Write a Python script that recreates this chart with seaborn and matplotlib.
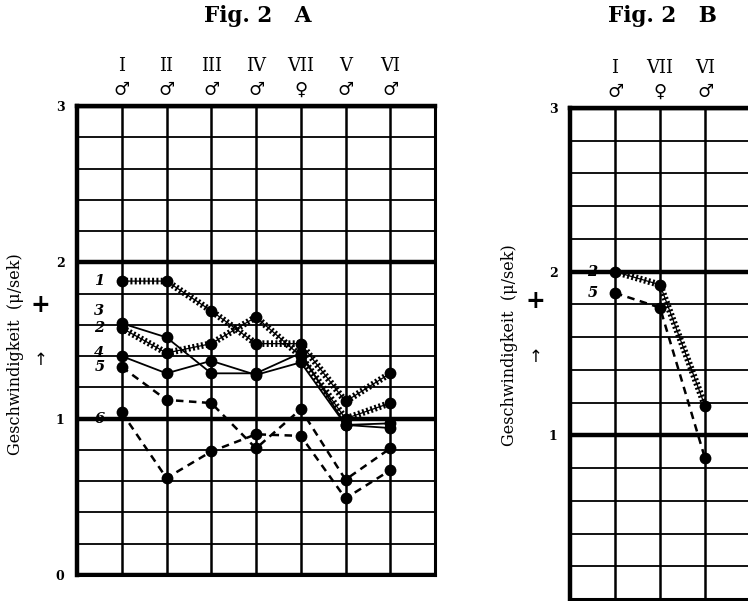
import matplotlib
matplotlib.use("Agg")
import matplotlib.pyplot as plt
from matplotlib.ticker import MultipleLocator
import seaborn as sns

# Fig. 2 A : Versuchstiere und Geschwindigkeiten
cats_a = ["I", "II", "III", "IV", "VII", "V", "VI"]
sex_a = ["♂", "♂", "♂", "♂", "♀", "♂", "♂"]
a1 = [1.88, 1.88, 1.69, 1.48, 1.48, 1.11, 1.29]
a2 = [1.58, 1.42, 1.48, 1.65, 1.40, 1.00, 1.10]
a3 = [1.61, 1.52, 1.29, 1.29, 1.42, 0.96, 0.94]
a4 = [1.40, 1.29, 1.37, 1.28, 1.36, 0.96, 0.97]
a5 = [1.33, 1.12, 1.10, 0.81, 1.06, 0.61, 0.81]
a6 = [1.04, 0.62, 0.79, 0.90, 0.89, 0.49, 0.67]

# Fig. 2 B
cats_b = ["I", "VII", "VI"]
sex_b = ["♂", "♀", "♂"]
b2 = [2.00, 1.92, 1.18]
b5 = [1.87, 1.78, 0.86]

sns.set_theme(style="white")
plt.rcParams["font.family"] = ["DejaVu Serif", "DejaVu Sans"]
plt.rcParams.update({"text.color": "black", "axes.labelcolor": "black",
                     "xtick.color": "black", "ytick.color": "black"})

styles = {
    "hatch": dict(lw=4.8, ls=(0, (0.3, 0.35))),
    "solid": dict(lw=1.3, ls="-"),
    "dash": dict(lw=1.8, ls=(0, (3, 2.2))),
}

series_a = [("1", a1, "hatch"), ("2", a2, "hatch"), ("3", a3, "solid"),
            ("4", a4, "solid"), ("5", a5, "dash"), ("6", a6, "dash")]
series_b = [("2", b2, "hatch"), ("5", b5, "dash")]

# kleine Verschiebung der Kurvennummern (nur Layout)
label_shift_a = {"1": 0.0, "2": 0.0, "3": 0.08, "4": 0.02, "5": 0.0, "6": -0.04}
label_shift_b = {"2": 0.0, "5": 0.0}

fig = plt.figure(figsize=(7.48, 6.01), dpi=100)
ax_a = fig.add_axes([77 / 748, 1 - 575 / 601, 358 / 748, 469 / 601])
ax_b = fig.add_axes([570 / 748, 1 - 599 / 601, 360 / 748, 491 / 601])


def draw_series(ax, cats, series, shifts):
    for name, vals, st in series:
        s = styles[st]
        sns.lineplot(x=cats, y=vals, ax=ax, sort=False, errorbar=None,
                     color="black", lw=s["lw"], linestyle=s["ls"],
                     marker="o", markersize=8.5, markeredgewidth=0, zorder=5)
        if st == "hatch":
            sns.lineplot(x=cats, y=vals, ax=ax, sort=False, errorbar=None,
                         color="black", lw=0.9, zorder=5)
        ax.text(-0.5, vals[0] + shifts[name], name, ha="center", va="center",
                fontsize=10.5, fontweight="bold", fontstyle="italic", zorder=6)


def style_axis(ax, cats, sex, yticks, ylab_xy, plus_xy, arrow_xy):
    ax.set_xlim(-1, 7)
    ax.set_ylim(0, 3)
    ax.set_xticks(range(len(cats)))
    ax.set_xticklabels([f"{c}\n{s}" for c, s in zip(cats, sex)],
                       fontsize=13, linespacing=1.45)
    ax.xaxis.tick_top()
    ax.tick_params(axis="x", length=0, pad=5, top=False, labeltop=True)
    ax.xaxis.set_minor_locator(MultipleLocator(1))
    ax.xaxis.remove_overlapping_locs = False
    ax.set_yticks(yticks)
    ax.set_yticklabels([str(t) for t in yticks], fontsize=9, fontweight="bold")
    ax.yaxis.set_minor_locator(MultipleLocator(0.2))
    ax.tick_params(axis="y", which="both", length=0, pad=9)
    ax.tick_params(axis="x", which="minor", length=0)
    ax.grid(True, axis="y", which="major", color="black", lw=3.2)
    ax.grid(True, axis="y", which="minor", color="black", lw=1.3)
    ax.grid(True, axis="x", which="minor", color="black", lw=1.8)
    ax.set_axisbelow(True)
    for sp in ax.spines.values():
        sp.set_color("black")
        sp.set_linewidth(2.2)
    ax.spines["left"].set_linewidth(3.2)
    ax.spines["top"].set_linewidth(3.2)
    ax.set_xlabel("")
    ax.set_ylabel("Geschwindigkeit  (μ/sek)", fontsize=11.5)
    ax.yaxis.set_label_coords(*ylab_xy)
    ax.text(*plus_xy, "+", transform=ax.transAxes, ha="center", va="center",
            fontsize=17, fontweight="bold", family=["DejaVu Sans"])
    ax.text(*arrow_xy, "↑", transform=ax.transAxes, ha="center", va="center",
            fontsize=12, family=["DejaVu Sans"])


draw_series(ax_a, cats_a, series_a, label_shift_a)
draw_series(ax_b, cats_b, series_b, label_shift_b)

style_axis(ax_a, cats_a, sex_a, [0, 1, 2, 3],
           (-0.148, 0.47), (-0.103, 0.576), (-0.103, 0.458))
style_axis(ax_b, cats_b, sex_b, [1, 2, 3],
           (-0.145, 0.518), (-0.097, 0.606), (-0.097, 0.492))

fig.text(258 / 748, 1 - 16 / 601, "Fig. 2   A", ha="center", va="center",
         fontsize=15.5, fontweight="bold")
fig.text(662 / 748, 1 - 16 / 601, "Fig. 2   B", ha="center", va="center",
         fontsize=15.5, fontweight="bold")

fig.savefig("out.png", dpi=100)
